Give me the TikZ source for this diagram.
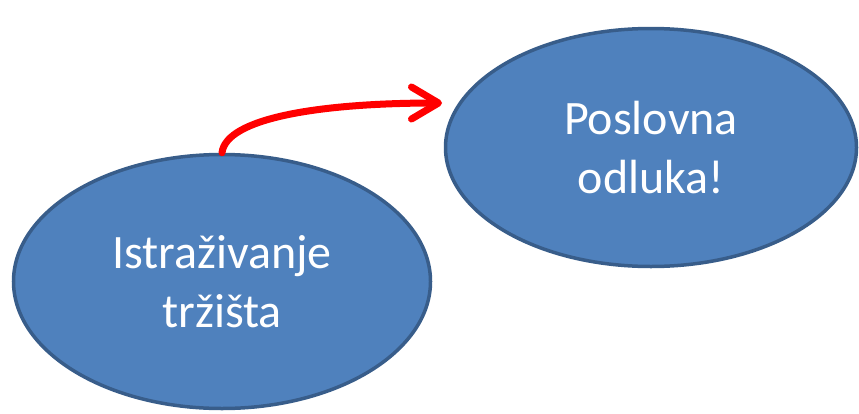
\documentclass[tikz,border=0pt]{standalone}
\usepackage{fontspec}
\setmainfont{Carlito}
\usetikzlibrary{shapes.geometric,arrows.meta}
\definecolor{fillblue}{HTML}{4F81BD}
\definecolor{edgeblue}{HTML}{385D8A}
\tikzset{
  bubble/.style={ellipse, draw=edgeblue, fill=fillblue, line width=3.5pt, inner sep=0pt,
    text=white, align=center, font=\fontsize{48pt}{59pt}\selectfont},
  redarrow/.style={draw=red, line width=7pt, line cap=round,
    -{Straight Barb[length=27pt,width=32pt,round]}}
}
\begin{document}
\begin{tikzpicture}[x=1pt,y=-1pt]
\useasboundingbox (0,0) rectangle (859,413);
\node[bubble, minimum width=417pt, minimum height=254pt] (a) at (222,281.5) {Istraživanje\\tržišta};
\node[bubble, minimum width=411pt, minimum height=238pt] (b) at (651,147.5) {Poslovna\\odluka!};
\coordinate (e) at (442,103);
\draw[redarrow] (a.north) .. controls (226,118) and (320,103) .. (e);
\end{tikzpicture}
\end{document}
